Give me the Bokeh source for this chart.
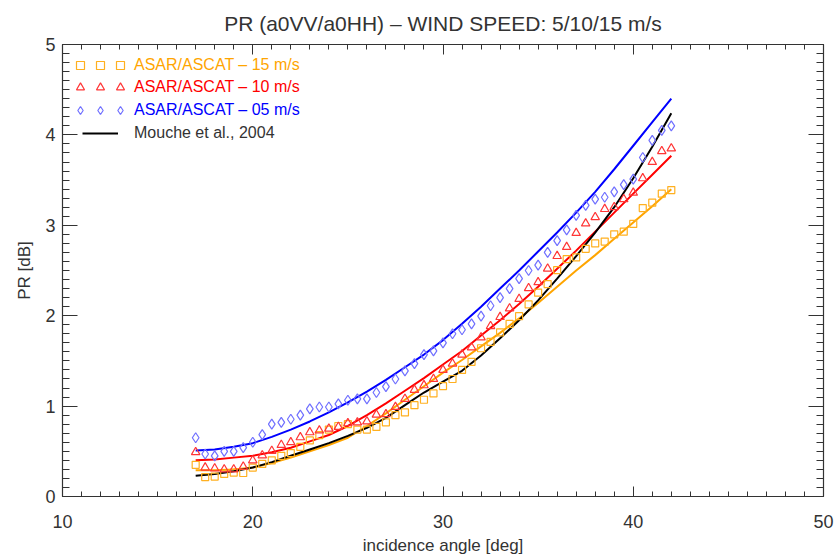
from bokeh.plotting import figure
from bokeh.models import Range1d, SingleIntervalTicker, LinearAxis, Legend, LegendItem
from bokeh.embed import file_html
from bokeh.resources import INLINE

# ---------------- data ----------------
angles = [17.0, 17.5, 18.0, 18.5, 19.0, 19.5, 20.0, 20.5, 21.0, 21.5,
          22.0, 22.5, 23.0, 23.5, 24.0, 24.5, 25.0, 25.5, 26.0, 26.5,
          27.0, 27.5, 28.0, 28.5, 29.0, 29.5, 30.0, 30.5, 31.0, 31.5,
          32.0, 32.5, 33.0, 33.5, 34.0, 34.5, 35.0, 35.5, 36.0, 36.5,
          37.0, 37.5, 38.0, 38.5, 39.0, 39.5, 40.0, 40.5, 41.0, 41.5, 42.0]

pts_15 = [0.35, 0.215, 0.22, 0.25, 0.265, 0.26, 0.32, 0.36, 0.40, 0.45,
          0.48, 0.55, 0.62, 0.68, 0.74, 0.78, 0.80, 0.74, 0.74, 0.77,
          0.82, 0.90, 0.93, 1.01, 1.07, 1.14, 1.22, 1.30, 1.40, 1.49,
          1.64, 1.71, 1.815, 1.91, 1.995, 2.125, 2.255, 2.35, 2.505, 2.625,
          2.645, 2.74, 2.80, 2.82, 2.90, 2.93, 3.015, 3.19, 3.25, 3.35, 3.39]

pts_10 = [0.49, 0.32, 0.31, 0.30, 0.30, 0.33, 0.40, 0.455, 0.505, 0.57,
          0.60, 0.655, 0.71, 0.73, 0.75, 0.77, 0.81, 0.82, 0.83, 0.905,
          0.91, 0.99, 1.08, 1.18, 1.23, 1.30, 1.40, 1.47, 1.57, 1.65,
          1.76, 1.885, 1.985, 2.08, 2.185, 2.305, 2.37, 2.52, 2.66, 2.76,
          2.915, 3.02, 3.09, 3.18, 3.20, 3.29, 3.36, 3.52, 3.70, 3.82, 3.85]

pts_05 = [0.65, 0.47, 0.45, 0.50, 0.50, 0.54, 0.60, 0.685, 0.80, 0.82,
          0.855, 0.90, 0.97, 0.99, 0.99, 1.025, 1.065, 1.08, 1.08, 1.15,
          1.215, 1.30, 1.39, 1.47, 1.57, 1.61, 1.70, 1.80, 1.845, 1.91,
          1.995, 2.11, 2.20, 2.30, 2.41, 2.50, 2.56, 2.70, 2.83, 2.95,
          3.11, 3.22, 3.29, 3.31, 3.37, 3.45, 3.51, 3.75, 3.94, 4.05, 4.10]

fit_angles = [17, 18, 19, 20, 21, 22, 23, 24, 25, 26, 27, 28, 29,
              30, 31, 32, 33, 34, 35, 36, 37, 38, 39, 40, 41, 42]
fit_15 = [0.29, 0.29, 0.30, 0.32, 0.37, 0.43, 0.50, 0.57, 0.65, 0.78, 0.92, 1.07, 1.22,
          1.37, 1.51, 1.66, 1.81, 1.97, 2.14, 2.32, 2.50, 2.67, 2.85, 3.03, 3.21, 3.40]
fit_10 = [0.40, 0.41, 0.43, 0.45, 0.49, 0.54, 0.61, 0.68, 0.78, 0.90, 1.03, 1.17, 1.31,
          1.46, 1.61, 1.78, 1.95, 2.13, 2.32, 2.52, 2.72, 2.93, 3.14, 3.35, 3.56, 3.77]
fit_05 = [0.51, 0.52, 0.55, 0.59, 0.66, 0.74, 0.83, 0.93, 1.04, 1.16, 1.29, 1.43, 1.57,
          1.73, 1.91, 2.10, 2.30, 2.50, 2.71, 2.92, 3.14, 3.37, 3.62, 3.88, 4.14, 4.40]
mouche = [0.23, 0.25, 0.28, 0.32, 0.38, 0.45, 0.52, 0.59, 0.67, 0.76, 0.87, 1.01, 1.15,
          1.27, 1.39, 1.56, 1.75, 1.95, 2.17, 2.41, 2.66, 2.92, 3.20, 3.52, 3.87, 4.24]

labels = ["ASAR/ASCAT \u2013 15 m/s", "ASAR/ASCAT \u2013 10 m/s",
          "ASAR/ASCAT \u2013 05 m/s", "Mouche et al., 2004"]
title_text = "PR (a0VV/a0HH) \u2013 WIND SPEED: 5/10/15 m/s"

# ---------------- style ----------------
FONT = "Liberation Sans"
TXT = "#333333"
C15, C10, C05 = "#FFA500", "#FF0000", "#0000FF"
M15, M10, M05 = "#FFB020", "#FF3535", "#7070FF"

p = figure(width=835, height=557, output_backend="svg", toolbar_location=None,
           x_range=Range1d(10, 50), y_range=Range1d(0, 5),
           title=title_text,
           min_border_left=62, min_border_right=12, min_border_top=43, min_border_bottom=60)
p.xgrid.visible = False
p.ygrid.visible = False
p.outline_line_color = None
p.background_fill_color = "white"
p.border_fill_color = "white"

p.title.text_font = FONT
p.title.text_font_size = "21px"
p.title.text_font_style = "normal"
p.title.text_color = TXT
p.title.align = "center"
p.title.standoff = 19


def style_axis(ax, interval, major_len, minor_len, show_labels):
    ax.ticker = SingleIntervalTicker(interval=interval, num_minor_ticks=10)
    ax.major_tick_in = major_len
    ax.major_tick_out = 0
    ax.minor_tick_in = minor_len
    ax.minor_tick_out = 0
    ax.axis_line_color = TXT
    ax.major_tick_line_color = TXT
    ax.minor_tick_line_color = TXT
    ax.axis_line_width = 1.2
    ax.major_label_text_font = FONT
    ax.major_label_text_color = TXT
    ax.axis_label_text_font = FONT
    ax.axis_label_text_color = TXT
    ax.axis_label_text_font_style = "normal"
    if not show_labels:
        ax.major_label_text_font_size = "1px"
        ax.major_label_text_color = None
        ax.major_label_standoff = 0
        ax.axis_label = None


xa = p.xaxis[0]
style_axis(xa, 10, 10, 5, True)
xa.axis_label = "incidence angle [deg]"
xa.axis_label_text_font_size = "17px"
xa.major_label_text_font_size = "18px"
xa.major_label_standoff = 18
xa.axis_label_standoff = 5

ya = p.yaxis[0]
style_axis(ya, 1, 15, 7, True)
ya.axis_label = "PR [dB]"
ya.axis_label_text_font_size = "17px"
ya.major_label_text_font_size = "18px"
ya.major_label_standoff = 7
ya.axis_label_standoff = 8

top = LinearAxis()
style_axis(top, 10, 10, 5, False)
p.add_layout(top, "above")
right = LinearAxis()
style_axis(right, 1, 15, 7, False)
p.add_layout(right, "right")

# ---------------- data marks ----------------
l15 = p.line(fit_angles, fit_15, line_color=C15, line_width=2)
l10 = p.line(fit_angles, fit_10, line_color=C10, line_width=2)
l05 = p.line(fit_angles, fit_05, line_color=C05, line_width=2)
lm = p.line(fit_angles, mouche, line_color="black", line_width=2)

s15 = p.scatter(angles, pts_15, marker="square", size=7, fill_color=None,
                line_color=M15, line_width=1.2)
s10 = p.scatter(angles, pts_10, marker="triangle", size=8.5, fill_color=None,
                line_color=M10, line_width=1.2)
s05 = p.scatter(angles, pts_05, marker="diamond", size=10,
                fill_color=None, line_color=M05, line_width=1.2)


# ---------------- legend (IDL style: three symbols then text) ----------------
def make_legend(items, color, x, y, **kw):
    lg = Legend(items=items, location=(x, y), orientation="horizontal",
                padding=0, margin=0, spacing=0,
                background_fill_alpha=0, border_line_alpha=0,
                label_text_font=FONT, label_text_font_size="16px",
                label_text_color=color, label_width=0, label_height=20,
                glyph_height=20, **kw)
    p.add_layout(lg)


def sym_legend(r, text, color, y):
    # two plain symbols (no text) followed by symbol + coloured text
    make_legend([LegendItem(label="", renderers=[r]),
                 LegendItem(label="", renderers=[r])],
                None, 8, y, glyph_width=20, label_standoff=0)
    make_legend([LegendItem(label=text, renderers=[r])],
                color, 48, y, glyph_width=20, label_standoff=4)


sym_legend(s15, labels[0], C15, 421)
sym_legend(s10, labels[1], C10, 399)
sym_legend(s05, labels[2], C05, 376)
make_legend([LegendItem(label=labels[3], renderers=[lm])], TXT, 20, 353,
            glyph_width=36, label_standoff=16)

open("out.html", "w").write(file_html(p, INLINE))
